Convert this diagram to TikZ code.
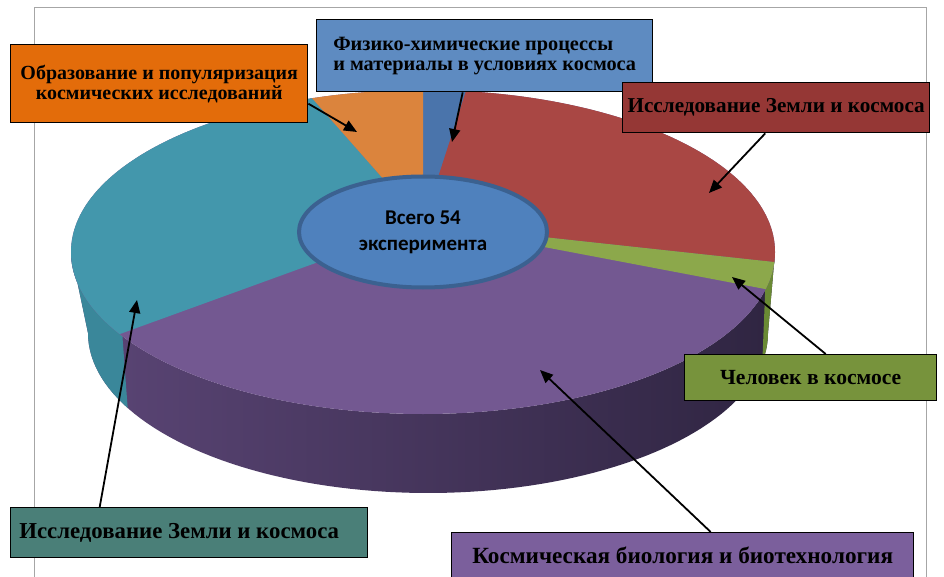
\documentclass[tikz,border=0pt]{standalone}
\usepackage{fontspec}
\setmainfont{Liberation Serif}
\newfontfamily\labfont{Liberation Serif}
\newfontfamily\cenfont{Carlito}
\usetikzlibrary{arrows.meta,shapes.geometric}
\definecolor{tealT}{HTML}{4397AC}
\definecolor{orangeT}{HTML}{DB843D}
\definecolor{blueT}{HTML}{4A74AB}
\definecolor{redT}{HTML}{A94744}
\definecolor{greenT}{HTML}{8CA84B}
\definecolor{purpleT}{HTML}{735891}
\definecolor{purpleSL}{HTML}{5C4677}
\definecolor{purpleSR}{HTML}{2E2440}
\definecolor{tealS}{HTML}{3A879A}
\definecolor{greenS}{HTML}{6A8A34}
\definecolor{orangeB}{HTML}{E36C0A}
\definecolor{blueB}{HTML}{5E8BC1}
\definecolor{redB}{HTML}{953735}
\definecolor{greenB}{HTML}{77933C}
\definecolor{tealB}{HTML}{4A7F78}
\definecolor{purpleB}{HTML}{7B5F9C}
\definecolor{cenF}{HTML}{4F81BD}
\definecolor{cenD}{HTML}{3B6190}
\definecolor{frameC}{HTML}{A6A6A6}
\tikzset{
  lbl/.style={draw=black, line width=1.4pt, inner sep=0pt, text=black, align=center, anchor=north west},
  lf/.style={font=\labfont\bfseries\fontsize{#1}{20}\selectfont},
  arr/.style={draw=black, line width=1.8pt, -{Triangle[length=13pt,width=11pt]}},
}
\begin{document}
\begin{tikzpicture}[x=1pt,y=-1pt]
\useasboundingbox (0,0) rectangle (944,577);
\fill[white] (0,0) rectangle (944,577);
% frame
\draw[frameC, line width=1pt] (34,577) -- (34,8) -- (926,8) -- (926,577);
% side of the pie
\begin{scope}
  \clip plot[domain=180:360,samples=90] ({423+352*cos(\x)},{252-162*sin(\x)})
        -- plot[domain=360:180,samples=90] ({428+340*cos(\x)},{333-160*sin(\x)}) -- cycle;
  \shade[left color=purpleSL, right color=purpleSR] (60,240) rectangle (790,500);
  \fill[tealS] (0,240) -- (115.4,240) -- (130,440) -- (0,440) -- cycle;
  \fill[greenS] (767.2,240) -- (800,240) -- (800,420) -- (760,420) -- cycle;
\end{scope}
% top face
\begin{scope}
  \clip (423,252) ellipse [x radius=352, y radius=162];
  \fill[purpleT] (60,80) rectangle (790,420);
  \fill[blueT] (423,224) -- (423,-178) -- (552,-175) -- cycle;
  \fill[redT] (423,224) -- (552,-175) -- (1200,-200) -- (1476,338) -- cycle;
  \fill[greenT] (423,224) -- (1476,338) -- (1449,419) -- cycle;
  \fill[tealT] (423,224) -- (-486,554) -- (-600,-200) -- (87,-157) -- cycle;
  \fill[orangeT] (423,224) -- (87,-157) -- (423,-178) -- cycle;
\end{scope}
% centre label
\node[ellipse, draw=cenD, line width=4pt, fill=cenF, minimum width=248, minimum height=111,
      inner sep=0pt, align=center, font=\cenfont\bfseries\fontsize{21}{26}\selectfont] (ce) at (423,232)
      {Всего 54\\эксперимента};
% label boxes
\node[lbl, lf=20, fill=orangeB, minimum width=297, minimum height=78] (ob) at (10,44)
  {Образование и популяризация\\космических исследований};
\node[lbl, lf=20.3, fill=blueB, minimum width=336, minimum height=72, align=left] (bb) at (316,19)
  {Физико-химические процессы\\и материалы в условиях космоса};
\node[lbl, lf=21.2, fill=redB, minimum width=307, minimum height=50] (rb) at (622,82)
  {Исследование Земли и космоса};
\node[lbl, lf=21.6, fill=greenB, minimum width=252, minimum height=46] (gb) at (684,354)
  {Человек в космосе};
\node[lbl, lf=22.8, fill=tealB, minimum width=357, minimum height=50] (tb) at (10,507)
  {Исследование Земли и космоса\hspace{20pt}};
\node[lbl, lf=23.2, fill=purpleB, minimum width=462, minimum height=45] (pb) at (451,532)
  {Космическая биология и биотехнология};
% arrow tips
\coordinate (tO) at (357,132);
\coordinate (tB) at (452,142);
\coordinate (tR) at (709,193);
\coordinate (tG) at (732,277);
\coordinate (tP) at (540,370);
\coordinate (tT) at (137,300);
\draw[arr] ([yshift=-20pt]ob.east) -- (tO);
\draw[arr] ([xshift=-22pt]bb.south) -- (tB);
\draw[arr] ([xshift=-11pt]rb.south) -- (tR);
\draw[arr] ([xshift=15pt]gb.north) -- (tG);
\draw[arr] ([xshift=28pt]pb.north) -- (tP);
\draw[arr] ([xshift=-89.5pt]tb.north) -- (tT);
\end{tikzpicture}
\end{document}
